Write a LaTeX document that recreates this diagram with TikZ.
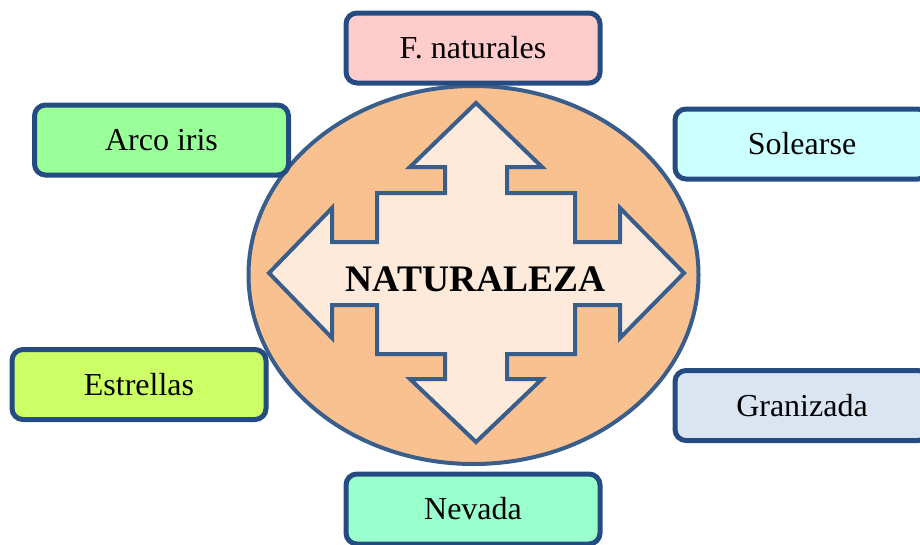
\documentclass[tikz,border=0pt]{standalone}
\usepackage{fontspec}
\setmainfont{Liberation Serif}
\usetikzlibrary{shapes.geometric}
\definecolor{boxline}{RGB}{36,76,130}
\definecolor{ovalline}{RGB}{58,94,140}
\definecolor{ovalfill}{RGB}{249,192,144}
\definecolor{crossfill}{RGB}{253,234,218}
\definecolor{cpink}{HTML}{FFCCCC}
\definecolor{cgreen}{HTML}{99FF99}
\definecolor{ccyan}{HTML}{CCFFFF}
\definecolor{clime}{HTML}{CCFF66}
\definecolor{cgrey}{HTML}{DBE5F1}
\definecolor{cmint}{HTML}{99FFCC}
\begin{document}
\begin{tikzpicture}[x=1pt,y=-1pt,
  topic/.style={draw=boxline, line width=5pt, rounded corners=11pt,
    minimum width=254pt, minimum height=70pt, inner sep=0pt,
    font=\fontsize{32}{36}\selectfont, text=black},
  title/.style={font=\fontsize{37.5}{40}\selectfont\bfseries, text=black, inner sep=0pt}]
\useasboundingbox (0,0) rectangle (920,544);
\clip (0,0) rectangle (920,544);

% central oval
\node[draw=ovalline, line width=4pt, fill=ovalfill, ellipse, minimum width=450pt,
  minimum height=378pt, inner sep=0pt] (oval) at (473.5,275) {};

% four-way arrow
\begin{scope}[shift={(476,273)}]
\draw[draw=ovalline, line width=4pt, fill=crossfill, line join=miter]
  (0,-170) -- (66,-106) -- (31,-106) -- (31,-80) -- (99,-80) -- (99,-31)
  -- (144,-31) -- (144,-65) -- (208,0) -- (144,65) -- (144,32) -- (99,32)
  -- (99,81) -- (31,81) -- (31,106) -- (66,106) -- (0,169) -- (-66,106)
  -- (-31,106) -- (-31,81) -- (-99,81) -- (-99,32) -- (-144,32) -- (-144,65)
  -- (-207,0) -- (-144,-65) -- (-144,-31) -- (-99,-31) -- (-99,-80)
  -- (-31,-80) -- (-31,-106) -- (-66,-106) -- cycle;
\end{scope}
\node[title] (center) at (475.5,279) {NATURALEZA};

% surrounding topics
\node[topic, fill=cpink]  (fn)  at (473,48)    {F. naturales};
\node[topic, fill=cgreen] (ai)  at (161.5,140) {Arco iris};
\node[topic, fill=ccyan]  (so)  at (802,144)   {Solearse};
\node[topic, fill=clime]  (es)  at (139,384.5) {Estrellas};
\node[topic, fill=cgrey]  (gr)  at (802,405.5) {Granizada};
\node[topic, fill=cmint]  (nv)  at (473,509)   {Nevada};
\end{tikzpicture}
\end{document}
